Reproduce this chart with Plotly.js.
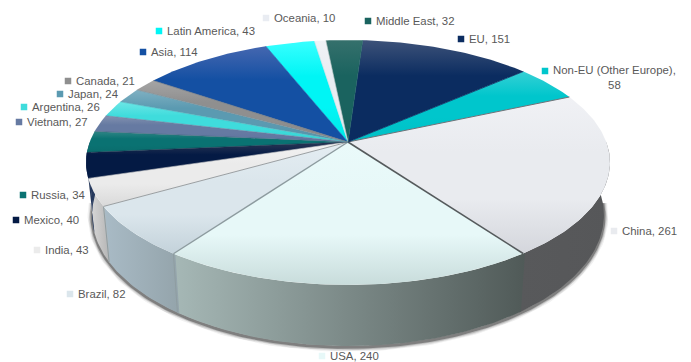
<!DOCTYPE html>
<html>
<head>
<meta charset="utf-8">
<script src="https://cdn.plot.ly/plotly-3.0.1.min.js"></script>
<style>html,body{margin:0;padding:0;background:#fff}#chart{width:691px;height:362px}</style>
</head>
<body>
<div id="chart"></div>
<script>
// Slices run clockwise from the first angle below.
const regions = ["China","USA","Brazil","India","Mexico","Russia","Vietnam","Argentina","Japan","Canada","Asia","Latin America","Oceania","Middle East","EU","Non-EU (Other Europe)"];
const values = [261,240,82,43,40,34,27,26,24,21,114,43,10,32,151,58];

// Top-face shading per slice: rim, body, foot.
const topRim  = ["#f0f1f5","#eafafa","#e4edf2","#f2f2f2","#2c3856","#2f8585","#8391b0","#6ce6e6","#7fb0c2","#a5a5a5","#4567b0","#38ffff","#f0f2f6","#35706c","#3d5279","#35d0d5"];
const topBody = ["#e9ebef","#e7f8f8","#dbe6ec","#ebebeb","#041a44","#0a7272","#667aa2","#3fdcdc","#5b9ab1","#8f8f8f","#1450a3","#00f5f5","#e9ecf2","#1a635f","#0b2c60","#00c6cc"];
const topFoot = ["#d4d6dc","#c8dcdb","#c3d2da","#d9d9d9","#041a44","#0a6c6c","#5f74a0","#35d4d4","#5590a8","#888888","#1450a3","#00e8e8","#dfe2e8","#1a5f5b","#0b2c60","#00c0c6"];
// Side-wall shading per slice: left end, right end.
const wallLeft  = ["#58595b","#a6b8b6","#a9bbc6","#dcdcdc","#1c2f55","#1c2f55","#333","#333","#333","#333","#333","#333","#333","#333","#333","#333"];
const wallRight = ["#565759","#505a58","#94a4ab","#b4b4b4","#2a3d60","#2a3d60","#333","#333","#333","#333","#333","#333","#333","#333","#333","#333"];
// Divider drawn on each slice's leading edge.
const edgeColor = ["#6f7278","#555a5c","#8d9b9f","#9a9fa2","#c9c9c9","#1a2a48","#3a6a78","#6b7c9c","#4bb6c0","#6f8f9c","#70757c","#1450a3","#b5dfe2","#b9c4c4","#1a635f","#0b2c60"];
const edgeWidth = [1,1.6,1.4,1,0.6,0.6,0.6,0.6,0.6,0.6,0.6,0.6,0.6,0.6,0.6,0.8];

// Legend key placement, in chart pixels.
const keyX = [614,322,70,37,16,23,19,24,60,68,143,159,266,368,461,545];
const keyY = [231,356,294,250,220,195,122,107,94,81,52,31,18,21,39,71];

const startAngle = 66.2;
const apexX = 348, apexY = 142;
const faceU = 258.3, faceV = 119, tilt = 0.167;
const wallDepth = 51, wallTaper = 0.977;

// Tilted-disc projection: angle is clockwise from the back of the disc.
function rim(deg, lower) {
  const t = deg * Math.PI / 180;
  const u = Math.sin(t), v = -Math.cos(t), w = 1 - tilt * v;
  const px = faceU * u / w, py = faceV * v / w;
  return lower ? [apexX + px * wallTaper, apexY + py + wallDepth / w]
               : [apexX + px, apexY + py];
}
function arc(a, b, lower) {
  const pts = [], n = Math.max(2, Math.ceil(Math.abs(b - a)));
  for (let i = 0; i <= n; i++) pts.push(rim(a + (b - a) * i / n, lower));
  return pts;
}

const total = values.reduce((s, x) => s + x, 0);
const bounds = [startAngle];
values.forEach(x => bounds.push(bounds[bounds.length - 1] + x / total * 360));

const traces = [];

// Soft contact shadow along the lower edge of the wall.
const shadowPts = arc(94, 266, true);
[[9,0.06],[7,0.10],[5,0.16],[3,0.34]].forEach(([width, alpha]) => {
  traces.push({x: shadowPts.map(p => p[0]), y: shadowPts.map(p => p[1] + 1.2), mode: "lines",
    line: {color: `rgba(15,15,15,${alpha})`, width}, hoverinfo: "skip", showlegend: false});
});

// Side walls for the part of the disc facing the viewer; each overlaps the previous one slightly.
values.forEach((val, i) => {
  const a = Math.max(bounds[i] - 0.5, 90), b = Math.min(bounds[i + 1], 270);
  if (b <= a) return;
  const up = arc(a, b, false), low = arc(b, a, true);
  const poly = up.concat(low);
  poly.push(up[0]);
  const xs = poly.map(p => p[0]);
  traces.push({x: xs, y: poly.map(p => p[1]), mode: "lines", fill: "toself", line: {width: 0},
    fillgradient: {type: "horizontal", start: Math.min(...xs), stop: Math.max(...xs),
      colorscale: [[0, wallLeft[i]], [1, wallRight[i]]]},
    hoverinfo: "skip", showlegend: false});
});

// Wall seams between the larger front slices.
[2, 3].forEach(i => {
  const top = rim(bounds[i], false), low = rim(bounds[i], true);
  traces.push({x: [top[0], low[0]], y: [top[1], low[1]], mode: "lines",
    line: {color: "#8f9da1", width: 1}, hoverinfo: "skip", showlegend: false});
});

// Top face, one wedge per value.
values.forEach((val, i) => {
  const pts = [[apexX, apexY]].concat(arc(bounds[i], bounds[i + 1], false));
  pts.push([apexX, apexY]);
  const ys = pts.map(p => p[1]);
  traces.push({x: pts.map(p => p[0]), y: ys, mode: "lines", fill: "toself", line: {width: 0},
    fillgradient: {type: "vertical", start: Math.min(...ys), stop: Math.max(...ys),
      colorscale: [[0, topRim[i]], [0.35, topBody[i]], [0.65, topBody[i]], [1, topFoot[i]]]},
    name: regions[i], text: `${regions[i]}, ${val}`, hoverinfo: "text", showlegend: false});
});

// Dividers from the apex to the rim.
values.forEach((val, i) => {
  const p = rim(bounds[i], false);
  traces.push({x: [apexX, p[0]], y: [apexY, p[1]], mode: "lines",
    line: {color: edgeColor[i], width: edgeWidth[i]}, hoverinfo: "skip", showlegend: false});
});

// Legend keys next to each label.
traces.push({x: keyX, y: keyY, mode: "markers", hoverinfo: "skip", showlegend: false,
  marker: {symbol: "square", size: 6.5, color: topBody, line: {width: 0}}});

const annotations = regions.map((name, i) => {
  const wrapped = name.startsWith("Non-EU");
  return {
    x: keyX[i] + 5.8, y: wrapped ? keyY[i] + 6.5 : keyY[i], xref: "x", yref: "y",
    xanchor: "left", yanchor: "middle", align: "center", showarrow: false,
    text: wrapped ? `${name},<br>${values[i]}` : `${name}, ${values[i]}`,
    font: {family: "Liberation Sans, Arial, sans-serif", size: 11.4, color: "#595959"}
  };
});

Plotly.newPlot("chart", traces, {
  width: 691, height: 362, margin: {l: 0, r: 0, t: 0, b: 0},
  paper_bgcolor: "#ffffff", plot_bgcolor: "#ffffff", showlegend: false,
  xaxis: {range: [0, 691], visible: false, fixedrange: true},
  yaxis: {range: [362, 0], visible: false, fixedrange: true},
  annotations
}, {displayModeBar: false, staticPlot: true});
</script>
</body>
</html>
